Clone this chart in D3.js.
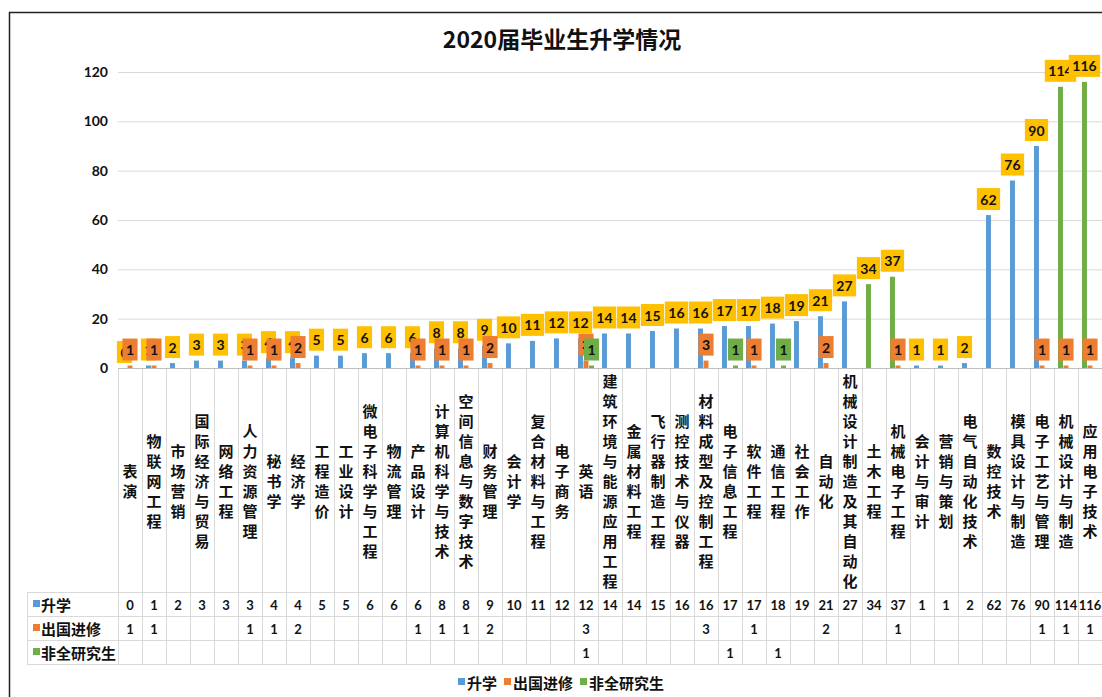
<!DOCTYPE html>
<html>
<head>
<meta charset="utf-8">
<script src="https://cdn.jsdelivr.net/npm/d3@7"></script>
<style>
  body { margin: 0; background: #fff; }
  svg { display: block; }
</style>
</head>
<body>
<svg id="chart" width="1102" height="697"></svg>
<script>
const majors = ["表演", "物联网工程", "市场营销", "国际经济与贸易", "网络工程", "人力资源管理", "秘书学", "经济学",
  "工程造价", "工业设计", "微电子科学与工程", "物流管理", "产品设计", "计算机科学与技术", "空间信息与数字技术",
  "财务管理", "会计学", "复合材料与工程", "电子商务", "英语", "建筑环境与能源应用工程", "金属材料工程",
  "飞行器制造工程", "测控技术与仪器", "材料成型及控制工程", "电子信息工程", "软件工程", "通信工程", "社会工作",
  "自动化", "机械设计制造及其自动化", "土木工程", "机械电子工程", "会计与审计", "营销与策划", "电气自动化技术",
  "数控技术", "模具设计与制造", "电子工艺与管理", "机械设计与制造", "应用电子技术"];

const shengxue = [0, 1, 2, 3, 3, 3, 4, 4, 5, 5, 6, 6, 6, 8, 8, 9, 10, 11, 12, 12, 14, 14, 15, 16, 16, 17, 17, 18, 19,
  21, 27, 34, 37, 1, 1, 2, 62, 76, 90, 114, 116];
const chuguo = [1, 1, null, null, null, 1, 1, 2, null, null, null, null, 1, 1, 1, 2, null, null, null, 3, null, null,
  null, null, 3, null, 1, null, null, 2, null, null, 1, null, null, null, null, null, 1, 1, 1];
const feiquan = [null, null, null, null, null, null, null, null, null, null, null, null, null, null, null, null, null,
  null, null, 1, null, null, null, null, null, 1, null, 1, null, null, null, null, null, null, null, null, null, null,
  null, null, null];

// 升学 bars that the original chart paints green
const greenBarMajors = ["土木工程", "机械电子工程", "机械设计与制造", "应用电子技术"];

const yTicks = [0, 20, 40, 60, 80, 100, 120];

const series = [
  { name: "升学", values: shengxue, color: "#5B9BD5", label: "#FFC000" },
  { name: "出国进修", values: chuguo, color: "#ED7D31", label: "#ED7D31" },
  { name: "非全研究生", values: feiquan, color: "#70AD47", label: "#70AD47" },
];

const svg = d3.select("#chart");
const plotLeft = 118, plotRight = 1102, plotTop = 72, plotBase = 368;
const tableLeft = 27, rowH = 24, tableTop = 592;
const cjk = "'Noto Sans CJK SC', sans-serif";
const num = "Lato, 'Open Sans', sans-serif";

const x = d3.scaleBand().domain(majors).range([plotLeft, plotRight]);
const xs = d3.scaleBand().domain(series.map((s) => s.name)).range([4, 20]).paddingInner(0.1);
const y = d3.scaleLinear().domain([0, 120]).range([plotBase, plotTop]);

// frame
svg.append("rect")
  .attr("x", 9.5).attr("y", 12.5).attr("width", 1200).attr("height", 800)
  .attr("fill", "none").attr("stroke", "#222").attr("stroke-width", 1.5);

// title
svg.append("text")
  .attr("x", 562).attr("y", 48)
  .attr("text-anchor", "middle")
  .style("font-family", cjk).style("font-weight", "bold").style("font-size", "23px")
  .attr("fill", "#111")
  .text("2020届毕业生升学情况");

// y axis + gridlines
const yAxis = svg.append("g")
  .attr("transform", `translate(${plotLeft},0)`)
  .call(d3.axisLeft(y).tickValues(yTicks).tickSize(-(plotRight - plotLeft)).tickPadding(10));
yAxis.select(".domain").remove();
yAxis.selectAll(".tick line").attr("stroke", "#d9d9d9");
yAxis.selectAll(".tick text")
  .style("font-family", num).style("font-weight", "bold").style("font-size", "14px")
  .attr("fill", "#111");

// category / table grid
const grid = svg.append("g").attr("stroke", "#d9d9d9").attr("stroke-width", 1);
const bounds = majors.map((m) => x(m)).concat([plotRight]);
grid.selectAll(".vline").data(bounds).enter().append("line")
  .attr("x1", (d) => Math.round(d) + 0.5).attr("x2", (d) => Math.round(d) + 0.5)
  .attr("y1", plotBase).attr("y2", tableTop + rowH * 3);
grid.append("line")
  .attr("x1", tableLeft + 0.5).attr("x2", tableLeft + 0.5)
  .attr("y1", tableTop).attr("y2", tableTop + rowH * 3);
grid.selectAll(".hline").data(d3.range(4)).enter().append("line")
  .attr("x1", tableLeft).attr("x2", plotRight)
  .attr("y1", (i) => tableTop + i * rowH + 0.5).attr("y2", (i) => tableTop + i * rowH + 0.5);
svg.append("line")
  .attr("x1", plotLeft).attr("x2", plotRight).attr("y1", plotBase + 0.5).attr("y2", plotBase + 0.5)
  .attr("stroke", "#bfbfbf");

// bars
series.forEach((s) => {
  svg.append("g").selectAll("rect")
    .data(s.values.map((v, i) => ({ v, m: majors[i] })).filter((d) => d.v))
    .enter().append("rect")
    .attr("x", (d) => x(d.m) + xs(s.name))
    .attr("width", xs.bandwidth())
    .attr("y", (d) => y(d.v))
    .attr("height", (d) => y(0) - y(d.v))
    .attr("fill", (d) => (s.name === "升学" && greenBarMajors.includes(d.m) ? "#70AD47" : s.color));
});

// data labels
series.forEach((s) => {
  const g = svg.append("g");
  s.values.forEach((v, i) => {
    if (v === null) return;
    const cx = x(majors[i]) + xs(s.name) + xs.bandwidth() / 2;
    const by = y(v) - 5;
    const lg = g.append("g");
    const r = lg.append("rect").attr("fill", s.label);
    const t = lg.append("text")
      .attr("x", cx).attr("y", by - 11)
      .attr("text-anchor", "middle").attr("dominant-baseline", "central")
      .style("font-family", num).style("font-weight", "bold").style("font-size", "14px")
      .attr("fill", "#111")
      .text(v);
    const w = t.node().getComputedTextLength() + 7;
    r.attr("x", cx - w / 2).attr("y", by - 22).attr("width", w).attr("height", 22);
  });
});

// vertical category labels
const cat = svg.append("g")
  .style("font-family", cjk).style("font-weight", "bold").style("font-size", "15px")
  .attr("fill", "#111");
majors.forEach((m) => {
  const chars = Array.from(m);
  const cx = x(m) + x.bandwidth() / 2;
  const y0 = 480 - ((chars.length - 1) * 20) / 2;
  chars.forEach((c, k) => {
    cat.append("text")
      .attr("x", cx).attr("y", y0 + k * 20)
      .attr("text-anchor", "middle").attr("dominant-baseline", "central")
      .text(c);
  });
});

// data table rows
series.forEach((s, r) => {
  const cy = tableTop + r * rowH + rowH / 2;
  svg.append("rect")
    .attr("x", 33).attr("y", cy - 4).attr("width", 7).attr("height", 7)
    .attr("fill", s.color);
  svg.append("text")
    .attr("x", 41).attr("y", cy)
    .attr("dominant-baseline", "central")
    .style("font-family", cjk).style("font-weight", "bold").style("font-size", "15px")
    .attr("fill", "#111")
    .text(s.name);
  svg.append("g").selectAll("text")
    .data(s.values.map((v, i) => ({ v, m: majors[i] })).filter((d) => d.v !== null))
    .enter().append("text")
    .attr("x", (d) => x(d.m) + x.bandwidth() / 2)
    .attr("y", cy + 1)
    .attr("text-anchor", "middle").attr("dominant-baseline", "central")
    .style("font-family", num).style("font-weight", "bold").style("font-size", "13px")
    .attr("fill", "#111")
    .text((d) => d.v);
});

// legend
const legend = svg.append("g");
let lx = 458;
series.forEach((s) => {
  legend.append("rect")
    .attr("x", lx).attr("y", 678).attr("width", 7).attr("height", 7)
    .attr("fill", s.color);
  const t = legend.append("text")
    .attr("x", lx + 9).attr("y", 682)
    .attr("dominant-baseline", "central")
    .style("font-family", cjk).style("font-weight", "bold").style("font-size", "15px")
    .attr("fill", "#111")
    .text(s.name);
  lx += 9 + t.node().getComputedTextLength() + 7;
});
</script>
</body>
</html>
